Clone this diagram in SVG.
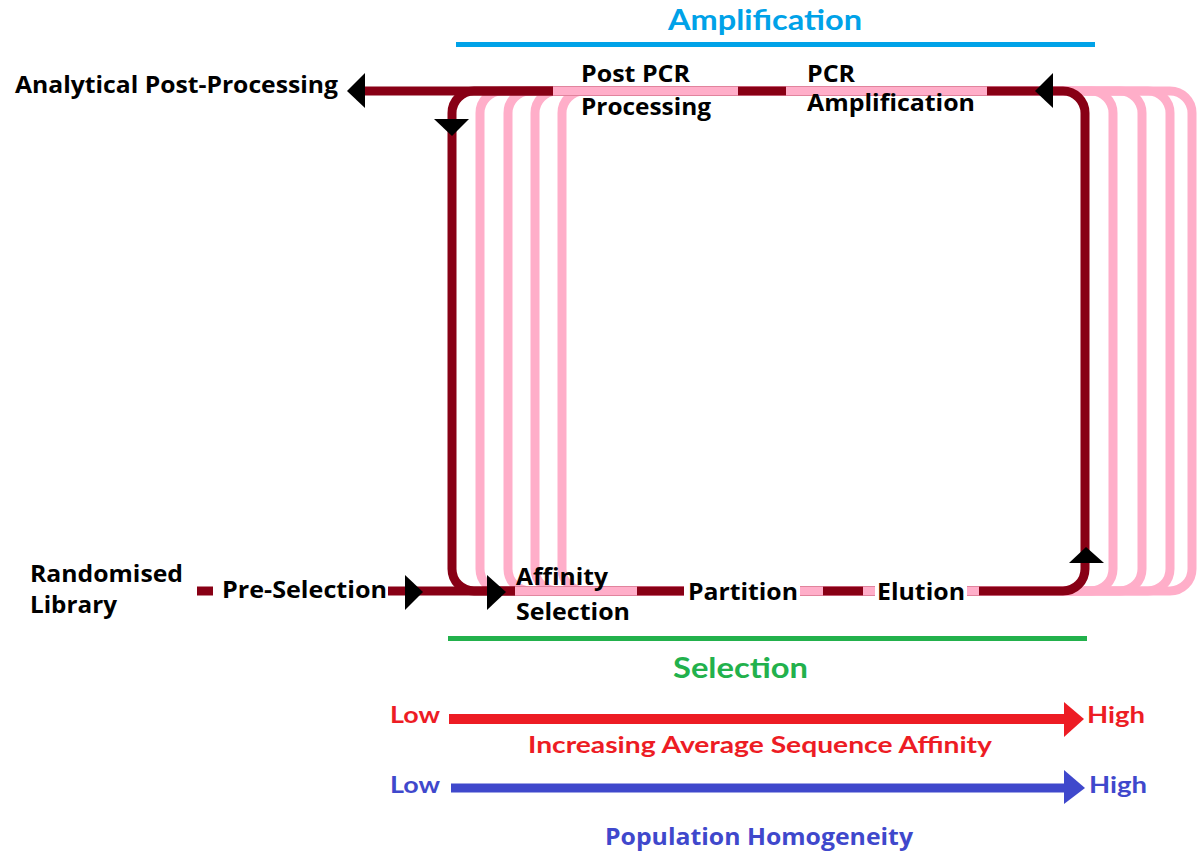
<svg xmlns="http://www.w3.org/2000/svg" width="1198" height="851" viewBox="0 0 1198 851">
<style>
.pink{fill:none;stroke:#FFAEC9;stroke-width:9}
.dr{fill:none;stroke:#880015;stroke-width:9}
.lbl{font-family:"Open Sans","DejaVu Sans",sans-serif;font-weight:bold;font-size:23px;fill:#000}
.cal{font-family:Lato,"Open Sans",sans-serif;font-weight:bold}
.head{fill:#000}
</style>
<rect width="1198" height="851" fill="#fff"/>
<g id="connectors">
  <rect class="pink" x="480" y="91" width="633" height="500" rx="22"/>
  <rect class="pink" x="508" y="91" width="634" height="500" rx="22"/>
  <rect class="pink" x="535" y="91" width="635" height="500" rx="22"/>
  <rect class="pink" x="562" y="91" width="630" height="500" rx="22"/>
  <rect class="dr" x="452" y="91" width="633" height="500" rx="22"/>
  <line class="dr" x1="360" y1="91" x2="553" y2="91"/>
  <line class="dr" x1="388" y1="591" x2="515" y2="591"/>
  <line class="dr" x1="197" y1="591" x2="213" y2="591"/>
  <line class="pink" x1="553" y1="91" x2="738" y2="91"/>
  <line class="pink" x1="786" y1="91" x2="987" y2="91"/>
  <line class="pink" x1="515" y1="591" x2="637" y2="591"/>
  <line class="pink" x1="800" y1="591" x2="823" y2="591"/>
  <line class="pink" x1="863" y1="591" x2="979" y2="591"/>
  <rect x="684" y="580" width="116" height="22" fill="#fff"/>
  <rect x="875" y="580" width="92" height="22" fill="#fff"/>
  <polygon class="head" points="347,91 365,73 365,108"/>
  <polygon class="head" points="434,119 469,119 452,136"/>
  <polygon class="head" points="1035,91 1053,73 1053,108"/>
  <polygon class="head" points="1086,547 1104,563 1069,563"/>
  <polygon class="head" points="405,575 423,592 405,610"/>
  <polygon class="head" points="487,575 506,592 487,610"/>
  <line x1="456" y1="44.5" x2="1095" y2="44.5" stroke="#00A2E8" stroke-width="5"/>
  <line x1="448" y1="638.5" x2="1087" y2="638.5" stroke="#22B14C" stroke-width="5"/>
  <line x1="449" y1="719" x2="1066" y2="719" stroke="#ED1C24" stroke-width="10"/>
  <polygon points="1064,702 1084,719 1064,737" fill="#ED1C24"/>
  <line x1="451" y1="788" x2="1066" y2="788" stroke="#3F48CC" stroke-width="9"/>
  <polygon points="1064,770 1085,788 1064,804" fill="#3F48CC"/>
</g>
<g id="amplification-title"><text class="cal" x="668" y="30" font-size="28" fill="#00A2E8" textLength="194" lengthAdjust="spacingAndGlyphs">Amplification</text></g>
<g id="analytical"><text class="lbl" x="15" y="93" textLength="323" lengthAdjust="spacingAndGlyphs">Analytical Post-Processing</text></g>
<g id="post-pcr"><text class="lbl" x="581" y="82" textLength="109" lengthAdjust="spacingAndGlyphs">Post PCR</text><text class="lbl" x="581" y="115" textLength="130" lengthAdjust="spacingAndGlyphs">Processing</text></g>
<g id="pcr-amp"><text class="lbl" x="807" y="82" textLength="48" lengthAdjust="spacingAndGlyphs">PCR</text><text class="lbl" x="807" y="111" textLength="168" lengthAdjust="spacingAndGlyphs">Amplification</text></g>
<g id="library"><text class="lbl" x="30" y="582" textLength="153" lengthAdjust="spacingAndGlyphs">Randomised</text><text class="lbl" x="30" y="613" textLength="87" lengthAdjust="spacingAndGlyphs">Library</text></g>
<g id="pre-selection"><text class="lbl" x="222" y="598" textLength="165" lengthAdjust="spacingAndGlyphs">Pre-Selection</text></g>
<g id="affinity"><text class="lbl" x="516" y="585" textLength="92" lengthAdjust="spacingAndGlyphs">Affinity</text><text class="lbl" x="516" y="620" textLength="114" lengthAdjust="spacingAndGlyphs">Selection</text></g>
<g id="partition"><text class="lbl" x="688" y="600" textLength="110" lengthAdjust="spacingAndGlyphs">Partition</text></g>
<g id="elution"><text class="lbl" x="877" y="600" textLength="88" lengthAdjust="spacingAndGlyphs">Elution</text></g>
<g id="selection-title"><text class="cal" x="673" y="678" font-size="29" fill="#22B14C" textLength="135" lengthAdjust="spacingAndGlyphs">Selection</text></g>
<g id="affinity-scale">
  <text class="cal" x="390" y="723" font-size="22" fill="#ED1C24" textLength="50" lengthAdjust="spacingAndGlyphs">Low</text>
  <text class="cal" x="1087" y="723" font-size="22" fill="#ED1C24" textLength="58" lengthAdjust="spacingAndGlyphs">High</text>
  <text class="cal" x="528" y="753" font-size="22" fill="#ED1C24" textLength="464" lengthAdjust="spacingAndGlyphs">Increasing Average Sequence Affinity</text>
</g>
<g id="homogeneity-scale">
  <text class="cal" x="390" y="793" font-size="22" fill="#3F48CC" textLength="50" lengthAdjust="spacingAndGlyphs">Low</text>
  <text class="cal" x="1089" y="793" font-size="22" fill="#3F48CC" textLength="58" lengthAdjust="spacingAndGlyphs">High</text>
  <text x="605" y="845" font-family="'Open Sans','DejaVu Sans',sans-serif" font-weight="bold" font-size="23" fill="#3F48CC" textLength="308" lengthAdjust="spacingAndGlyphs">Population Homogeneity</text>
</g>
</svg>
